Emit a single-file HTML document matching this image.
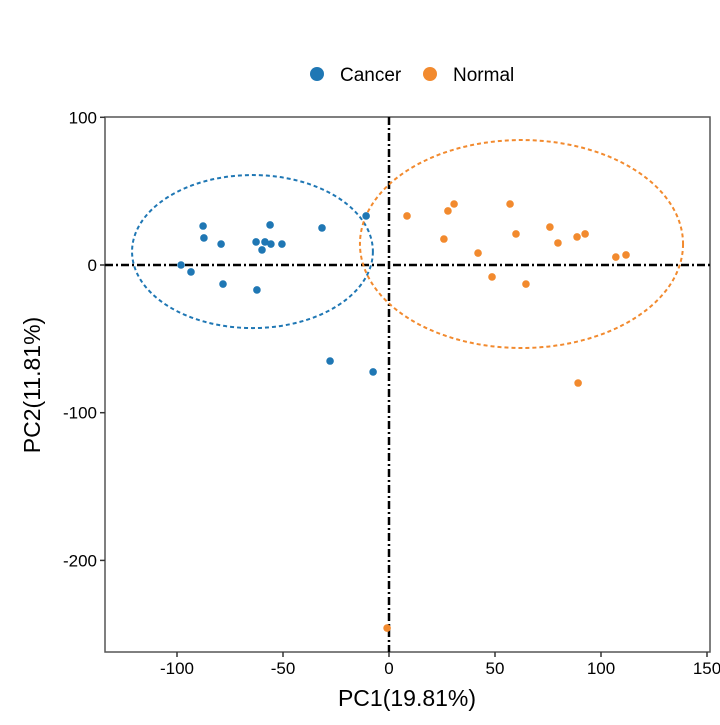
<!DOCTYPE html>
<html><head><meta charset="utf-8"><style>
body{margin:0;background:#fff;width:720px;height:720px;overflow:hidden}
svg text{font-family:"Liberation Sans",Arial,sans-serif;}
</style></head><body>
<svg id="chart" width="720" height="720" viewBox="0 0 720 720" xmlns="http://www.w3.org/2000/svg"></svg>
<script>
const cancerX=[-87.7,-87.3,-79.2,-98.1,-93.4,-78.3,-62.3,-56.1,-62.7,-58.5,-55.7,-59.9,-50.5,-31.6,-10.8,-27.8,-7.5];
const cancerY=[26.4,18.3,14.2,0,-4.7,-12.9,-16.9,27.1,15.6,15.6,14.2,10.2,14.2,25.1,33.2,-65,-72.4];
const normalX=[8.5,27.8,30.7,57.1,25.9,59.9,42,75.9,79.7,88.7,92.5,107,111.8,48.6,64.6,89.2,-0.9];
const normalY=[33.2,36.6,41.3,41.3,17.6,21,8.1,25.7,14.9,19,21,5.4,6.8,-8.1,-12.9,-79.9,-245.8];
const xTicks=[-100,-50,0,50,100,150];
const yTicks=[100,0,-100,-200];
const cancerEllipse=[-64.4,9.1,56.8,51.8];
const normalEllipse=[62.5,14.2,76.2,70.4];

const NS="http://www.w3.org/2000/svg";
const svg=document.getElementById('chart');
const L=105,R=710,T=117,B=652;
const sx=v=>389+v*2.12;
const sy=v=>265-v*1.477;
function mk(tag,attrs,parent){const e=document.createElementNS(NS,tag);for(const k in attrs)e.setAttribute(k,attrs[k]);(parent||svg).appendChild(e);return e;}

let e;
e=mk('rect',{x:L,y:T,width:R-L,height:B-T,fill:'none',stroke:'#555','stroke-width':1.5});



e=mk('line',{x1:L,x2:R,y1:sy(0),y2:sy(0),stroke:'#000','stroke-width':2.5,'stroke-dasharray':'8 3 2 3'});


e=mk('line',{x1:sx(0),x2:sx(0),y1:T,y2:B,stroke:'#000','stroke-width':2.5,'stroke-dasharray':'8 3 2 3'});



xTicks.forEach(v=>{
  e=mk('line',{x1:sx(v),x2:sx(v),y1:B,y2:B+5,stroke:'#333','stroke-width':1.5});
  
  
  e=mk('text',{x:sx(v),y:B+22,'text-anchor':'middle','font-size':17,fill:'#000'});
  e.textContent=v;
  
  
});
yTicks.forEach(v=>{
  e=mk('line',{x1:L-5,x2:L,y1:sy(v),y2:sy(v),stroke:'#333','stroke-width':1.5});
  
  
  e=mk('text',{x:L-8,y:sy(v)+6,'text-anchor':'end','font-size':17,fill:'#000'});
  e.textContent=v;
  
  
});

function ell(p,color,name){
  e=mk('ellipse',{cx:sx(p[0]),cy:sy(p[1]),rx:p[2]*2.12,ry:p[3]*1.477,fill:'none',stroke:color,'stroke-width':2,'stroke-dasharray':'4 3'});
  
  
}
ell(cancerEllipse,'#1f77b4','cancer-ellipse');
ell(normalEllipse,'#f28a2e','normal-ellipse');

cancerX.forEach((x,i)=>{
  e=mk('circle',{cx:sx(x),cy:sy(cancerY[i]),r:3.8,fill:'#1f77b4'});
  
  
});
normalX.forEach((x,i)=>{
  e=mk('circle',{cx:sx(x),cy:sy(normalY[i]),r:3.8,fill:'#f28a2e'});
  
  
});

e=mk('text',{x:407,y:706,'text-anchor':'middle','font-size':23,fill:'#000'});
e.textContent='PC1(19.81%)';


e=mk('text',{x:0,y:0,'text-anchor':'middle','font-size':23,fill:'#000',transform:'translate(40,385) rotate(-90)'});
e.textContent='PC2(11.81%)';



const lg=mk('g',{});


e=mk('circle',{cx:317,cy:74,r:7,fill:'#1f77b4'},lg);


e=mk('text',{x:340,y:81,'font-size':19,fill:'#000'},lg);
e.textContent='Cancer';


e=mk('circle',{cx:430,cy:74,r:7,fill:'#f28a2e'},lg);


e=mk('text',{x:453,y:81,'font-size':19,fill:'#000'},lg);
e.textContent='Normal';


</script>
</body></html>
